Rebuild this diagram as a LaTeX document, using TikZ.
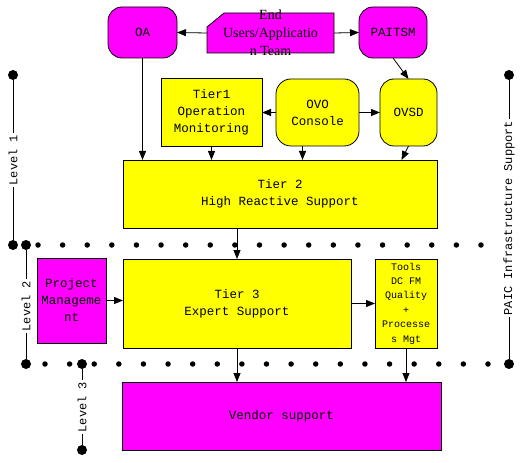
\documentclass[tikz,border=0pt]{standalone}
\usepackage{fontspec}
\setmonofont{Liberation Mono}
\newfontfamily\eufont{Liberation Serif}
\usetikzlibrary{math}
\usetikzlibrary{arrows.meta}
\definecolor{pmag}{RGB}{255,0,255}
\definecolor{pyel}{RGB}{255,255,0}
\tikzset{box/.style={draw=black, inner sep=0pt, outer sep=0pt, align=center, font=\ttfamily\fontsize{12.5}{17}\selectfont},
magbox/.style={box, fill=pmag},
yelbox/.style={box, fill=pyel},
roundbox/.style={rounded corners=#1},roundbox/.default={14pt},
bigdot/.style={circle, fill=black, minimum size=10pt, inner sep=0pt},
smalldot/.style={circle, fill=black, minimum size=5.5pt, inner sep=0pt},
level/.style={rotate=90, inner sep=1.5pt, font=\ttfamily\fontsize{12}{14}\selectfont}}

\begin{document}
\begin{tikzpicture}[x=1pt,y=-1pt,>={Triangle[length=9pt,width=7pt]},line width=0.8pt]
	\tikzmath{\dotA=245; \dotB=364; \dstep=24.61;}
	\useasboundingbox (0,0) rectangle (526,462);
	% users and service desks
	\node[magbox,roundbox,minimum width=69pt,minimum height=51pt] (oa) at (142.5,32.5) {OA};
	\node[inner sep=0pt,outer sep=0pt,minimum width=127pt,minimum height=40pt] (eu) at (270.5,33) {};
	\filldraw[fill=pmag] (eu.south west) -- ([yshift=-14pt]eu.north west) -- ([xshift=17pt]eu.north west) -- (eu.north east) -- (eu.south east) -- cycle;
	\node[inner sep=0pt,align=center,font=\eufont\fontsize{14}{18}\selectfont] (eutxt) at (eu) {End\\Users/Applicatio\\n Team};
	\node[magbox,roundbox,minimum width=68pt,minimum height=51pt] (paitsm) at (393,32.5) {PAITSM};
	\node[yelbox,minimum width=101pt,minimum height=68pt] (tier1) at (211.5,112.5) {Tier1\\Operation\\Monitoring};
	\node[yelbox,roundbox=15pt,minimum width=83pt,minimum height=67pt] (ovo) at (317.5,112.5) {OVO\\Console};
	\node[yelbox,roundbox,minimum width=57pt,minimum height=67pt] (ovsd) at (408.5,112.5) {OVSD};
	% tiers
	\node[yelbox,minimum width=314pt,minimum height=68pt] (tier2) at (280,194) {Tier 2\\High Reactive Support};
	\node[magbox,minimum width=69pt,minimum height=85pt] (pm) at (71.5,300.5) {Project\\Manageme\\nt};
	\node[yelbox,minimum width=228pt,minimum height=89pt] (tier3) at (237,303.5) {Tier 3\\Expert Support};
	\node[yelbox,minimum width=62pt,minimum height=89pt,font=\ttfamily\fontsize{10}{14.4}\selectfont] (tools) at (406,303.5) {Tools\\DC FM\\Quality\\+\\Processe\\s Mgt};
	\node[magbox,minimum width=319pt,minimum height=68pt] (vendor) at (281.5,416) {Vendor support};

	% dotted borders
	\foreach \i in {0,...,18} {
		\node[smalldot] (da\i) at (38+\i*\dstep,\dotA) {};
		\node[smalldot] (db\i) at (45+\i*\dstep,\dotB) {};
	}

	% level markers
	\node[bigdot] (l1top) at (13,75) {};
	\node[bigdot] (l1bot) at (13,\dotA) {};
	\node[level] (l1) at (13,160) {Level 1};
	\draw (l1top) -- (l1.east) (l1.west) -- (l1bot);
	\node[bigdot] (l2top) at (26,\dotA) {};
	\node[bigdot] (l2bot) at (26,\dotB) {};
	\node[level] (l2) at (26,306) {Level 2};
	\draw (l2top) -- (l2.east) (l2.west) -- (l2bot);
	\node[bigdot] (l3top) at (82,\dotB) {};
	\node[bigdot] (l3bot) at (82,450) {};
	\node[level] (l3) at (82,407) {Level 3};
	\draw (l3top) -- (l3.east) (l3.west) -- (l3bot);
	\node[bigdot] (ptop) at (509,75) {};
	\node[bigdot] (pbot) at (509,\dotB) {};
	\node[level] (paic) at (509,218) {PAIC Infrastructure Support};
	\draw (ptop) -- (paic.east) (paic.west) -- (pbot);

	% connectors
	\draw[->] (eu.west) -- (oa.east);
	\draw[->] (eu.east) -- (paitsm.west);
	\draw[->] (paitsm.south) -- (ovsd.north);
	\draw[->] (ovo.west) -- (tier1.east);
	\draw[->] (ovo.east) -- (ovsd.west);
	\draw[->] (oa.south) -- (oa.south |- tier2.north);
	\draw[->] (tier1.south) -- (tier1.south |- tier2.north);
	\draw[->] ([xshift=-15pt]ovo.south) -- ([xshift=-15pt]ovo.south |- tier2.north);
	\draw[->] (ovsd.south) -- ([xshift=-7pt]ovsd.south |- tier2.north);
	\draw[->] (tier3.north |- tier2.south) -- (tier3.north);
	\draw[->] (pm.east) -- (pm.east -| tier3.west);
	\draw[->] (tier3.east) -- (tools.west);
	\draw[->] (tier3.south) -- (tier3.south |- vendor.north);
	\draw[->] (tools.south) -- (tools.south |- vendor.north);
\end{tikzpicture}
\end{document}
